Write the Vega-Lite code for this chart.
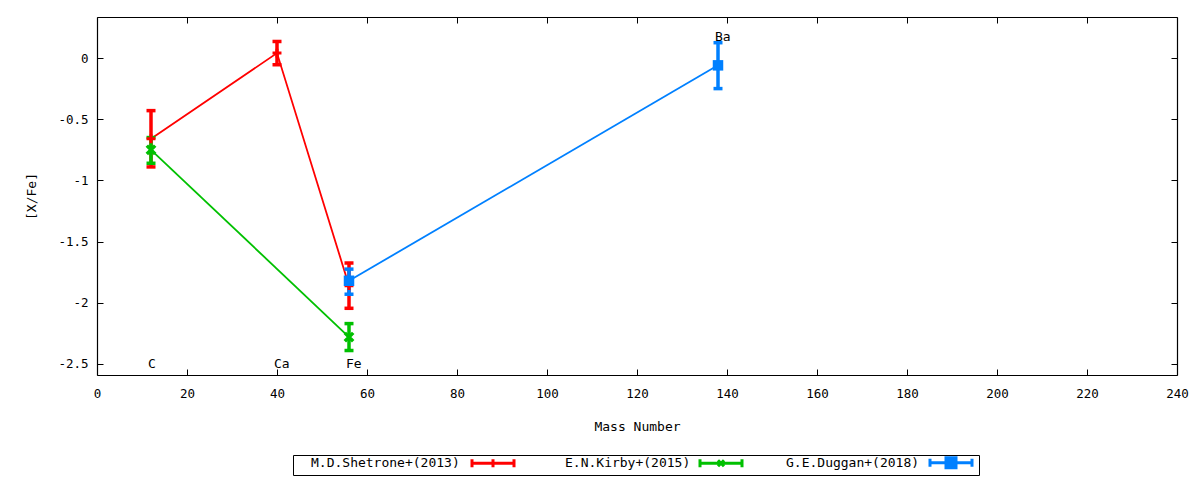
{
  "$schema": "https://vega.github.io/schema/vega-lite/v6.json",
  "width": 1080,
  "height": 358,
  "autosize": "none",
  "padding": {"left": 97, "top": 17, "right": 23, "bottom": 105},
  "background": "white",
  "config": {
    "font": "DejaVu Sans Mono",
    "view": {"stroke": null},
    "axis": {
      "grid": false,
      "domainColor": "black",
      "tickColor": "black",
      "labelColor": "black",
      "titleColor": "black",
      "labelFont": "DejaVu Sans Mono",
      "titleFont": "DejaVu Sans Mono",
      "labelFontSize": 12.5,
      "titleFontSize": 13,
      "titleFontWeight": "normal",
      "tickSize": -6,
      "domainWidth": 1.2,
      "tickWidth": 1
    }
  },
  "datasets": {
    "obs": [
      {"study": "M.D.Shetrone+(2013)", "element": "C", "mass": 12, "value": -0.66, "lo": -0.89, "hi": -0.43},
      {"study": "M.D.Shetrone+(2013)", "element": "Ca", "mass": 40, "value": 0.04, "lo": -0.055, "hi": 0.135},
      {"study": "M.D.Shetrone+(2013)", "element": "Fe", "mass": 56, "value": -1.86, "lo": -2.045, "hi": -1.675},
      {"study": "E.N.Kirby+(2015)", "element": "C", "mass": 12, "value": -0.75, "lo": -0.86, "hi": -0.65},
      {"study": "E.N.Kirby+(2015)", "element": "Fe", "mass": 56, "value": -2.28, "lo": -2.39, "hi": -2.17},
      {"study": "G.E.Duggan+(2018)", "element": "Fe", "mass": 56, "value": -1.82, "lo": -1.93, "hi": -1.725},
      {"study": "G.E.Duggan+(2018)", "element": "Ba", "mass": 138, "value": -0.06, "lo": -0.25, "hi": 0.125}
    ],
    "labels": [
      {"element": "C", "mass": 12, "ly": -2.5},
      {"element": "Ca", "mass": 40, "ly": -2.5},
      {"element": "Fe", "mass": 56, "ly": -2.5},
      {"element": "Ba", "mass": 138, "ly": 0.17}
    ]
  },
  "resolve": {"axis": {"x": "independent", "y": "independent"}},
  "layer": [
    {
      "data": {"name": "obs"},
      "mark": {"type": "line", "strokeWidth": 1.8},
      "encoding": {
        "x": {
          "field": "mass", "type": "quantitative",
          "scale": {"domain": [0, 240], "nice": false, "zero": false},
          "axis": {"title": "Mass Number", "values": [0, 20, 40, 60, 80, 100, 120, 140, 160, 180, 200, 220, 240], "labelPadding": 18, "titlePadding": 21, "labelFlush": false}
        },
        "y": {
          "field": "value", "type": "quantitative",
          "scale": {"domain": [-2.59, 0.335], "nice": false, "zero": false},
          "axis": {
            "title": "[X/Fe]",
            "values": [0, -0.5, -1, -1.5, -2, -2.5],
            "labelExpr": "replace(format(datum.value, '.1~f'), '\u2212', '-')",
            "labelPadding": 15,
            "titlePadding": 19
          }
        },
        "color": {
          "field": "study", "type": "nominal",
          "scale": {
            "domain": ["M.D.Shetrone+(2013)", "E.N.Kirby+(2015)", "G.E.Duggan+(2018)"],
            "range": ["#ff0000", "#00c000", "#0080ff"]
          },
          "legend": {
            "title": null,
            "orient": "none",
            "legendX": 196,
            "legendY": 438,
            "direction": "horizontal",
            "strokeColor": "black",
            "padding": 1,
            "symbolSize": 100,
            "symbolStrokeWidth": 3,
            "labelFont": "DejaVu Sans Mono",
            "labelFontSize": 13,
            "labelColor": "black",
            "columnPadding": 10,
            "encode": {
              "symbols": {
                "update": {
                  "shape": [
                    {"test": "datum.value === 'M.D.Shetrone+(2013)'", "value": "M-4.2,0H4.2M-4.2,-0.8V0.8M4.2,-0.8V0.8M0,-0.8V0.8"},
                    {"test": "datum.value === 'E.N.Kirby+(2015)'", "value": "M-4.2,0H4.2M-4.2,-0.8V0.8M4.2,-0.8V0.8M-0.6,-0.6L0.6,0.6M-0.6,0.6L0.6,-0.6"},
                    {"value": "M-4.2,0H4.2M-4.2,-0.8V0.8M4.2,-0.8V0.8M-1,-1H1V1H-1Z"}
                  ],
                  "x": [
                    {"test": "datum.value === 'M.D.Shetrone+(2013)'", "value": 199},
                    {"test": "datum.value === 'E.N.Kirby+(2015)'", "value": 191},
                    {"value": 193}
                  ],
                  "fill": {"scale": "color", "field": "value"},
                  "opacity": {"value": 1}
                }
              },
              "labels": {
                "update": {
                  "x": [
                    {"test": "datum.value === 'M.D.Shetrone+(2013)'", "value": 17},
                    {"test": "datum.value === 'E.N.Kirby+(2015)'", "value": 35},
                    {"value": 28}
                  ]
                }
              }
            }
          }
        },
        "order": {"field": "mass", "type": "quantitative"}
      }
    },
    {
      "data": {"name": "obs"},
      "mark": {"type": "rule", "strokeWidth": 3.5},
      "encoding": {
        "x": {"field": "mass", "type": "quantitative", "axis": null},
        "y": {"field": "lo", "type": "quantitative", "axis": null},
        "y2": {"field": "hi"},
        "color": {"field": "study", "type": "nominal", "legend": null}
      }
    },
    {
      "data": {"name": "obs"},
      "mark": {"type": "tick", "orient": "horizontal", "size": 9, "thickness": 3.5, "opacity": 1},
      "encoding": {
        "x": {"field": "mass", "type": "quantitative", "axis": null},
        "y": {"field": "lo", "type": "quantitative", "axis": null},
        "color": {"field": "study", "type": "nominal", "legend": null}
      }
    },
    {
      "data": {"name": "obs"},
      "mark": {"type": "tick", "orient": "horizontal", "size": 9, "thickness": 3.5, "opacity": 1},
      "encoding": {
        "x": {"field": "mass", "type": "quantitative", "axis": null},
        "y": {"field": "hi", "type": "quantitative", "axis": null},
        "color": {"field": "study", "type": "nominal", "legend": null}
      }
    },
    {
      "data": {"name": "obs"},
      "transform": [{"filter": "datum.study === 'M.D.Shetrone+(2013)'"}],
      "mark": {"type": "point", "shape": "M-1,0H1M0,-1V1", "filled": false, "size": 80, "strokeWidth": 3, "opacity": 1},
      "encoding": {
        "x": {"field": "mass", "type": "quantitative", "axis": null},
        "y": {"field": "value", "type": "quantitative", "axis": null},
        "color": {"field": "study", "type": "nominal", "legend": null}
      }
    },
    {
      "data": {"name": "obs"},
      "transform": [{"filter": "datum.study === 'E.N.Kirby+(2015)'"}],
      "mark": {"type": "point", "shape": "M-1,-1L1,1M-1,1L1,-1", "filled": false, "size": 70, "strokeWidth": 3.5, "opacity": 1},
      "encoding": {
        "x": {"field": "mass", "type": "quantitative", "axis": null},
        "y": {"field": "value", "type": "quantitative", "axis": null},
        "color": {"field": "study", "type": "nominal", "legend": null}
      }
    },
    {
      "data": {"name": "obs"},
      "transform": [{"filter": "datum.study === 'G.E.Duggan+(2018)'"}],
      "mark": {"type": "square", "size": 110, "opacity": 1},
      "encoding": {
        "x": {"field": "mass", "type": "quantitative", "axis": null},
        "y": {"field": "value", "type": "quantitative", "axis": null},
        "color": {"field": "study", "type": "nominal", "legend": null}
      }
    },
    {
      "data": {"name": "labels"},
      "mark": {"type": "text", "align": "left", "baseline": "middle", "dx": -3, "fontSize": 13, "color": "black"},
      "encoding": {
        "x": {
          "field": "mass", "type": "quantitative",
          "axis": {"orient": "top", "labels": false, "title": null, "values": [0, 20, 40, 60, 80, 100, 120, 140, 160, 180, 200, 220, 240]}
        },
        "y": {
          "field": "ly", "type": "quantitative",
          "axis": {"orient": "right", "labels": false, "title": null, "values": [0, -0.5, -1, -1.5, -2, -2.5]}
        },
        "text": {"field": "element"}
      }
    }
  ]
}
